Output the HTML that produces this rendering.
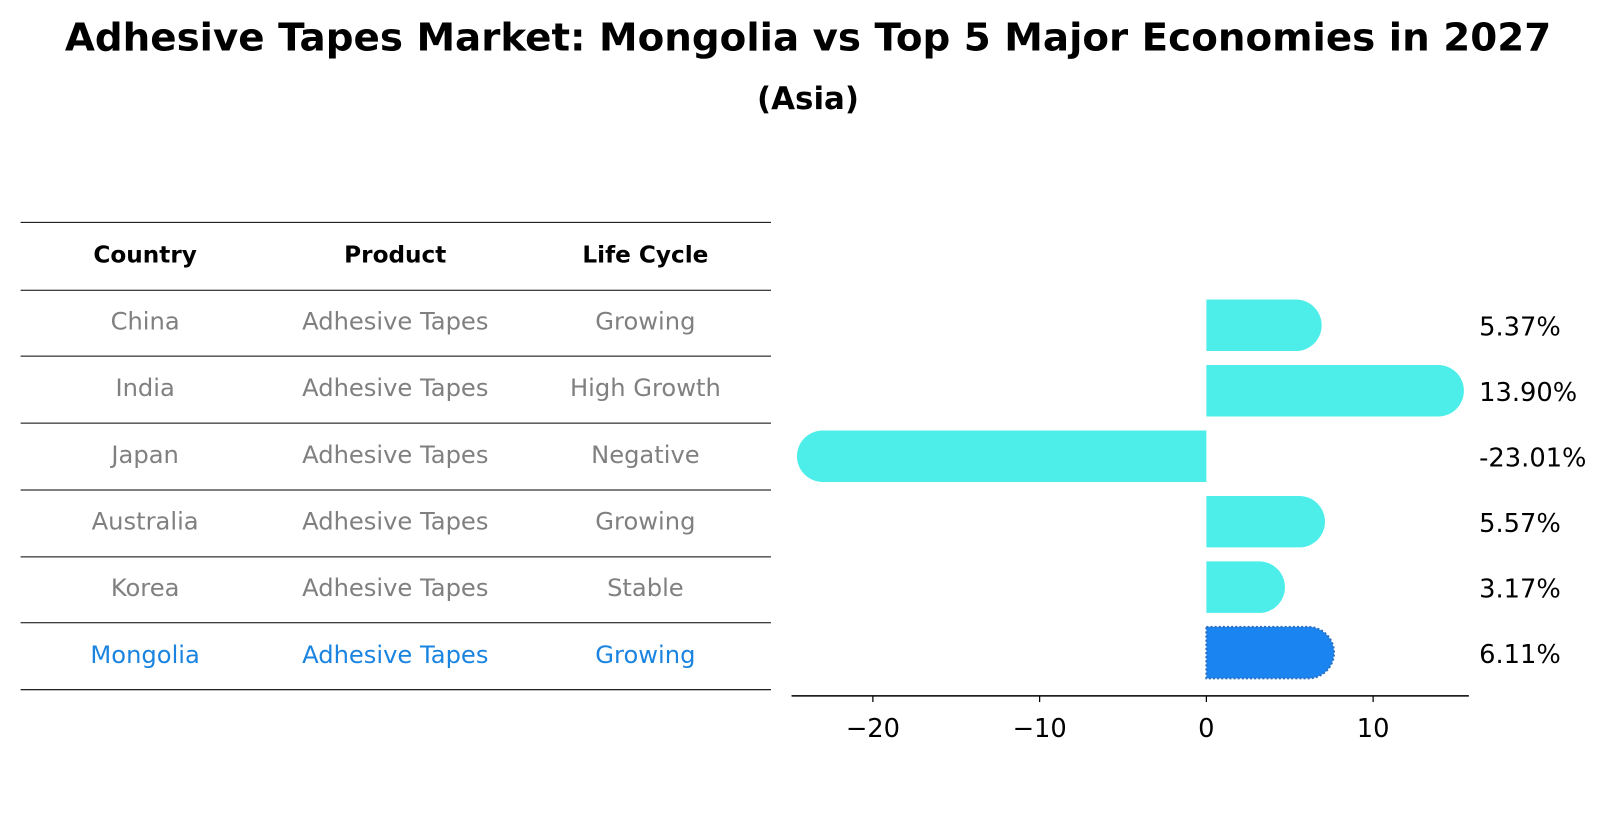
<!DOCTYPE html>
<html><head><meta charset="utf-8"><style>
body{margin:0;background:#fff;font-family:"Liberation Sans","DejaVu Sans",sans-serif;}
#wrap{position:relative;width:1614px;height:823px;overflow:hidden}
</style></head><body>
<div id="wrap">
<svg id="svg" width="1614" height="823" viewBox="0 0 1568 799.5" preserveAspectRatio="none" xmlns="http://www.w3.org/2000/svg" font-family="DejaVu Sans, Liberation Sans, sans-serif">
<text x="785" y="49" text-anchor="middle" font-size="37" font-weight="bold" textLength="1444" lengthAdjust="spacingAndGlyphs">Adhesive Tapes Market: Mongolia vs Top 5 Major Economies in 2027</text>
<text x="785" y="106" text-anchor="middle" font-size="30" font-weight="bold">(Asia)</text>
<g id="table"></g>
<g id="bars"></g>
</svg>
</div>
<script>
const countries=["China","India","Japan","Australia","Korea","Mongolia"];
const products=["Adhesive Tapes","Adhesive Tapes","Adhesive Tapes","Adhesive Tapes","Adhesive Tapes","Adhesive Tapes"];
const lifeCycles=["Growing","High Growth","Negative","Growing","Stable","Growing"];
const growthValues=[5.37,13.90,-23.01,5.57,3.17,6.11];
const valueLabels=["5.37%","13.90%","-23.01%","5.57%","3.17%","6.11%"];
const xTicks=[-20,-10,0,10];
const headers=["Country","Product","Life Cycle"];

const NS="http://www.w3.org/2000/svg";
function mk(tag,attrs,parent,text){const e=document.createElementNS(NS,tag);for(const k in attrs)e.setAttribute(k,attrs[k]);if(text!==undefined)e.textContent=text;parent.appendChild(e);return e;}
const xScale=v=>1172+v*16.2;
const rowY=i=>316+i*63.6;
const table=document.getElementById('table');
const colX=[141,384,627];
const lineYs=[216,282,346,411,476,541,605,670];
lineYs.forEach(y=>{const l=mk('line',{x1:20,x2:749,y1:y,y2:y,stroke:'#000','stroke-width':1},table);

});
headers.forEach((h,j)=>{const t=mk('text',{x:colX[j],y:255,'text-anchor':'middle','font-size':22.5,'font-weight':'bold'},table,h);

});
const tableRowY=i=>320+i*64.8;
countries.forEach((c,i)=>{const col=c==="Mongolia"?'#1a84e0':'#808080';
[c,products[i],lifeCycles[i]].forEach((v,j)=>{const t=mk('text',{x:colX[j],y:tableRowY(i),'text-anchor':'middle','font-size':23.5,fill:col},table,v);

});});

const bars=document.getElementById('bars');
const h=50,r=25;
growthValues.forEach((v,i)=>{
  const y0=rowY(i)-h/2;const x0=xScale(0),x1=xScale(v);
  const dir=v>=0?1:-1;
  const d=`M${x0},${y0} L${x1},${y0} A${r},${r} 0 0 ${dir>0?1:0} ${x1},${y0+h} L${x0},${y0+h} Z`;
  const isM=countries[i]==="Mongolia";
  const p=mk('path',{d:d,fill:isM?'#1a84f0':'#4deeea',stroke:isM?'#2a6fc0':'none','stroke-width':isM?2:0,'stroke-dasharray':isM?'2,2':''},bars);
  
  
  const t=mk('text',{x:1437,y:rowY(i)+10,'font-size':25},bars,valueLabels[i]);
  
  
});
const ax=mk('line',{x1:769,x2:1427,y1:676,y2:676,stroke:'#000','stroke-width':1.5},bars);


xTicks.forEach(v=>{const x=xScale(v);
const tk=mk('line',{x1:x,x2:x,y1:676,y2:682,stroke:'#000','stroke-width':1.2},bars);


const t=mk('text',{x:x,y:716,'text-anchor':'middle','font-size':25},bars,v<0?'\u2212'+Math.abs(v):String(v));

});
</script>
</body></html>
